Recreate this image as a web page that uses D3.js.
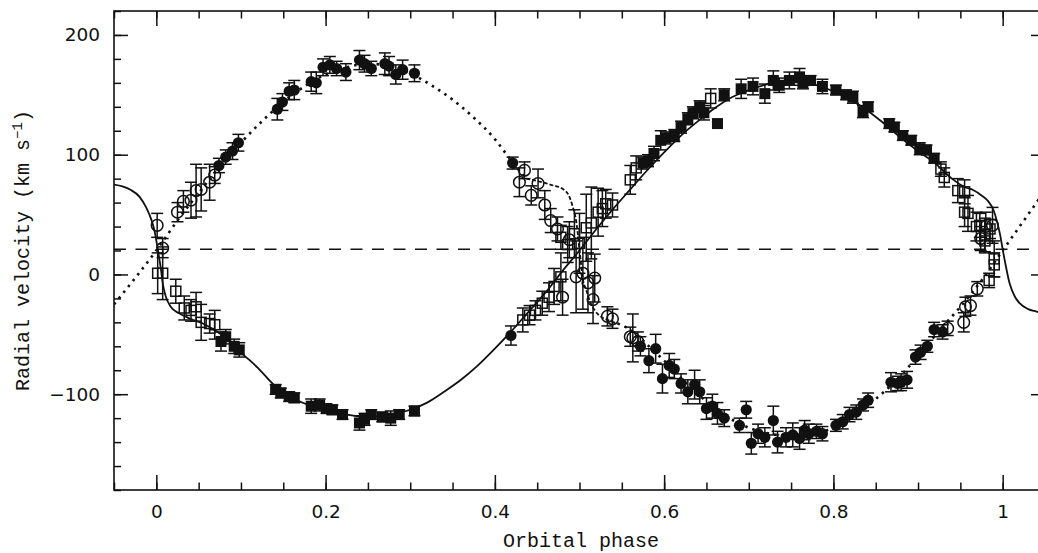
<!DOCTYPE html>
<html><head><meta charset="utf-8">
<script src="https://cdn.jsdelivr.net/npm/d3@7"></script>
<style>body{margin:0;background:#fff;overflow:hidden}</style>
</head><body><svg id="c" width="1038" height="553"></svg>
<script>
// ---------------- data ----------------
const xTickValues = [0, 0.2, 0.4, 0.6, 0.8, 1];
const xTickLabels = ["0", "0.2", "0.4", "0.6", "0.8", "1"];
const yTickValues = [-100, 0, 100, 200];
const yTickLabels = ["\u2212100", "0", "100", "200"];
const systemicVelocity = 21;
const xLabel = "Orbital phase";

// filled circles
const fcPhase = [0.074,0.082,0.090,0.097,0.143,0.149,0.157,0.163,0.183,0.189,0.197,0.205,0.213,0.224,0.240,0.246,0.254,0.270,0.275,0.283,0.291,0.305,0.421,0.419,
  0.572,0.582,0.590,0.598,0.606,0.612,0.620,0.628,0.636,0.642,0.650,0.657,0.663,0.671,0.689,0.697,0.703,0.711,0.719,0.729,0.734,0.744,0.752,0.760,0.766,0.771,0.780,0.787,0.803,0.811,0.819,0.827,0.835,0.841,0.868,0.876,0.880,0.887,0.897,0.903,0.911,0.919,0.929];
const fcVel = [91,98,103,110,138,144,153,154,161,160,173,175,172,169,179,176,172,176,174,167,171,168,93,-51,
  -60,-72,-62,-87,-76,-79,-91,-98,-92,-98,-112,-110,-116,-120,-126,-113,-141,-133,-136,-122,-140,-136,-134,-137,-130,-133,-131,-133,-126,-123,-117,-115,-109,-105,-90,-91,-90,-88,-69,-65,-60,-46,-48];
const fcErr = [6,6,7,7,9,7,7,8,8,9,7,7,6,7,8,7,6,9,8,8,8,7,5,8,
  8,10,12,12,10,8,8,10,12,10,9,10,9,7,6,7,9,8,8,12,9,8,10,9,8,8,6,6,5,6,6,6,5,6,8,6,7,7,6,6,5,6,6];

// open circles
const ocPhase = [0.001,0.0075,0.025,0.032,0.041,0.047,0.053,0.063,0.069,0.435,0.429,0.451,0.443,0.459,0.466,0.474,0.488,0.480,0.496,0.504,0.510,0.518,0.516,0.533,0.539,0.560,0.563,0.569,0.935,0.954,0.956,0.962,0.970,0.974,0.980,0.988];
const ocVel = [41,22,52,61,62,70,71,77,83,87,77,76,66,58,45,38,29,-19,-2,1,-7,-3,-21,-35,-37,-52,-53,-56,-45,-40,-27,-26,-12,30,40,41];
const ocErr = [10,8,8,9,15,22,18,15,7,7,12,12,8,12,10,10,15,15,30,30,25,20,20,8,8,8,20,8,6,8,8,8,6,10,12,15];

// open squares
const osPhase = [0.0016,0.0075,0.023,0.033,0.041,0.047,0.053,0.063,0.069,0.433,0.441,0.448,0.456,0.464,0.470,0.478,0.478,0.486,0.494,0.500,0.508,0.514,0.522,0.527,0.531,0.539,0.560,0.567,0.655,0.931,0.927,0.947,0.955,0.955,0.959,0.969,0.973,0.979,0.979,0.985,0.990,0.990,0.984];
const osVel = [1,1,-14,-28,-30,-27,-40,-41,-42,-38,-34,-30,-24,-19,-10,-2,31,25,34,26,39,43,52,55,59,58,79,89,147,81,88,70,69,52,51,40,41,33,28,38,13,8,-5];
const osErr = [17,22,10,10,9,12,15,8,12,10,8,8,10,12,15,20,10,15,20,25,28,30,20,15,12,10,12,10,8,8,6,10,10,12,15,12,10,14,10,8,15,10,6];

// filled squares
const fsPhase = [0.0764,0.082,0.092,0.098,0.141,0.147,0.157,0.163,0.183,0.193,0.201,0.208,0.220,0.240,0.246,0.254,0.267,0.277,0.287,0.305,
  0.575,0.581,0.588,0.596,0.602,0.612,0.620,0.628,0.634,0.642,0.647,0.663,0.671,0.691,0.705,0.719,0.729,0.736,0.748,0.760,0.764,0.773,0.787,0.803,0.815,0.823,0.835,0.841,0.866,0.872,0.882,0.892,0.902,0.910,0.919];
const fsVel = [-56,-52,-60,-63,-96,-99,-102,-103,-110,-109,-112,-113,-117,-124,-121,-117,-119,-120,-117,-114,
  93,95,101,112,114,116,123,130,135,140,135,126,150,155,157,151,162,158,162,165,160,162,157,154,150,148,136,140,126,123,116,112,105,104,97];
const fsErr = [8,6,6,6,4,4,4,4,6,5,4,4,4,6,5,4,4,6,4,4,
  5,5,6,8,5,5,5,5,5,5,6,0,5,8,7,8,8,6,7,7,5,4,6,4,4,5,5,4,4,4,4,4,5,4,4];

// model curves
const solidPhase = [-0.05,-0.04,-0.03,-0.02,-0.012,-0.006,-0.002,0.0015,0.0055,0.0075,0.011,0.017,0.027,0.04,0.055,0.07,0.086,0.1,0.12,0.14,0.16,0.18,0.2,0.225,0.25,0.275,0.3,0.32,0.34,0.36,0.38,0.4,0.42,0.44,0.46,0.48,0.5,0.52,0.54,0.56,0.58,0.6,0.62,0.64,0.66,0.68,0.7,0.72,0.74,0.76,0.78,0.8,0.82,0.84,0.86,0.88,0.9,0.92,0.94,0.955,0.965,0.975,0.983,0.989,0.993,0.997,1.0,1.004,1.008,1.014,1.02,1.03,1.04,1.05];
const solidVel = [75,73.5,70.5,65,56,46,36,22,4,-7,-18,-27,-32.5,-37,-41,-47,-55,-65,-78,-93,-103,-109,-113,-117,-119,-117,-113,-107,-98,-88,-76,-62,-47,-31,-15,3,20,38,55,71,87,102,116,128,139,148,154,158.5,160.5,160.5,158,153,146,137,126,114,103,93,80,73,70.5,66,61,54,45,33,21,6,-7,-18,-24,-29,-31,-33];

const dottedAPhase = [-0.05,-0.025,0,0.025,0.05,0.075,0.1,0.125,0.15,0.175,0.2,0.225,0.25,0.275,0.3,0.325,0.35,0.375,0.4,0.413,0.425,0.437];
const dottedAVel = [-25,-3,20,45,68,90,110,128,144,157,167,173,176,174,168,158,146,131,113,101,90,80];
const dottedBPhase = [0.545,0.555,0.57,0.585,0.6,0.625,0.65,0.675,0.7,0.725,0.75,0.775,0.8,0.825,0.85,0.875,0.9,0.925,0.95,0.975,1.0,1.025,1.05];
const dottedBVel = [-41,-44,-52,-62,-72,-90,-106,-119,-128,-133,-135,-133,-128,-118,-104,-88,-68,-47,-27,-5,20,45,70];
const rmPhase = [0.437,0.453,0.468,0.48,0.488,0.492,0.496,0.498,0.5,0.502,0.504,0.508,0.512,0.518,0.523,0.535,0.545];
const rmVel = [80,77.5,74.5,71.5,65,56.5,45,34,20,8,-4,-13,-22,-30,-34,-38.5,-41];

// ---------------- drawing ----------------
const W = 1038, H = 553;
const L = 114, R = 1045, T = 11, B = 490;
const svg = d3.select("#c");
const x = d3.scaleLinear().domain([-0.05, 1.05]).range([L, R]);
const y = d3.scaleLinear().domain([-180, 220]).range([B, T]);
const ink = "#111";

svg.append("defs").append("clipPath").attr("id", "clip")
  .append("rect").attr("x", L).attr("y", T).attr("width", R - L).attr("height", B - T);

const tickFont = "'DejaVu Sans', sans-serif";
const titleFont = "'Liberation Mono', 'DejaVu Sans Mono', monospace";

const xMinor = d3.range(-0.05, 1.0501, 0.05).map(v => +v.toFixed(2));
const yMinor = d3.range(-180, 220.1, 20);

function styleAxis(g) {
  g.select(".domain").remove();
  g.selectAll(".tick line").attr("stroke", ink).attr("stroke-width", 1.5);
  g.selectAll("text").attr("fill", ink).style("font-family", tickFont).style("font-size", "18.5px");
}
// bottom
svg.append("g").attr("transform", `translate(0,${B})`)
  .call(d3.axisBottom(x).tickValues(xMinor).tickSize(-7.5).tickFormat("")).call(styleAxis);
svg.append("g").attr("transform", `translate(0,${B})`)
  .call(d3.axisBottom(x).tickValues(xTickValues).tickSize(-15).tickPadding(15)
    .tickFormat((d, i) => xTickLabels[i])).call(styleAxis);
// top
svg.append("g").attr("transform", `translate(0,${T})`)
  .call(d3.axisTop(x).tickValues(xMinor).tickSize(-7.5).tickFormat("")).call(styleAxis);
svg.append("g").attr("transform", `translate(0,${T})`)
  .call(d3.axisTop(x).tickValues(xTickValues).tickSize(-15).tickFormat("")).call(styleAxis);
// left
svg.append("g").attr("transform", `translate(${L},0)`)
  .call(d3.axisLeft(y).tickValues(yMinor).tickSize(-7).tickFormat("")).call(styleAxis);
svg.append("g").attr("transform", `translate(${L},0)`)
  .call(d3.axisLeft(y).tickValues(yTickValues).tickSize(-14).tickPadding(14)
    .tickFormat((d, i) => yTickLabels[i])).call(styleAxis);
// right
svg.append("g").attr("transform", `translate(${R},0)`)
  .call(d3.axisRight(y).tickValues(yMinor).tickSize(-7).tickFormat("")).call(styleAxis);
svg.append("g").attr("transform", `translate(${R},0)`)
  .call(d3.axisRight(y).tickValues(yTickValues).tickSize(-14).tickFormat("")).call(styleAxis);

// frame
svg.append("rect").attr("x", L).attr("y", T).attr("width", R - L).attr("height", B - T)
  .attr("fill", "none").attr("stroke", ink).attr("stroke-width", 1.6);

const plot = svg.append("g").attr("clip-path", "url(#clip)");

// systemic velocity
plot.append("line").attr("x1", L).attr("x2", R).attr("y1", y(systemicVelocity)).attr("y2", y(systemicVelocity))
  .attr("stroke", ink).attr("stroke-width", 1.5).attr("stroke-dasharray", "12,9.5");

const line = d3.line().x(d => x(d[0])).y(d => y(d[1])).curve(d3.curveMonotoneX);
const zip = (a, b) => a.map((v, i) => [v, b[i]]);

plot.append("path").attr("d", line(zip(solidPhase, solidVel)))
  .attr("fill", "none").attr("stroke", ink).attr("stroke-width", 1.8);
[[dottedAPhase, dottedAVel], [dottedBPhase, dottedBVel]].forEach(([p, v]) => {
  plot.append("path").attr("d", line(zip(p, v)))
    .attr("fill", "none").attr("stroke", ink).attr("stroke-width", 2.6).attr("stroke-dasharray", "2.5,5");
});
plot.append("path").attr("d", line(zip(rmPhase, rmVel)))
  .attr("fill", "none").attr("stroke", ink).attr("stroke-width", 1.8).attr("stroke-dasharray", "4,2");

// error bars
function errorBars(ph, vel, err) {
  const g = plot.append("g").attr("stroke", ink).attr("stroke-width", 1.5);
  ph.forEach((p, i) => {
    if (!err[i]) return;
    const cx = x(p), y1 = y(vel[i] - err[i]), y2 = y(vel[i] + err[i]);
    g.append("line").attr("x1", cx).attr("x2", cx).attr("y1", y1).attr("y2", y2);
    g.append("line").attr("x1", cx - 6).attr("x2", cx + 6).attr("y1", y1).attr("y2", y1);
    g.append("line").attr("x1", cx - 6).attr("x2", cx + 6).attr("y1", y2).attr("y2", y2);
  });
}
errorBars(osPhase, osVel, osErr);
errorBars(ocPhase, ocVel, ocErr);
errorBars(fsPhase, fsVel, fsErr);
errorBars(fcPhase, fcVel, fcErr);

// markers
plot.append("g").selectAll("rect").data(zip(osPhase, osVel)).join("rect")
  .attr("x", d => x(d[0]) - 5).attr("y", d => y(d[1]) - 5).attr("width", 10).attr("height", 10)
  .attr("fill", "none").attr("stroke", ink).attr("stroke-width", 1.5);
plot.append("g").selectAll("circle").data(zip(ocPhase, ocVel)).join("circle")
  .attr("cx", d => x(d[0])).attr("cy", d => y(d[1])).attr("r", 5.8)
  .attr("fill", "none").attr("stroke", ink).attr("stroke-width", 1.5);
plot.append("g").selectAll("rect").data(zip(fsPhase, fsVel)).join("rect")
  .attr("x", d => x(d[0]) - 5.5).attr("y", d => y(d[1]) - 5.5).attr("width", 11).attr("height", 11)
  .attr("fill", ink);
plot.append("g").selectAll("circle").data(zip(fcPhase, fcVel)).join("circle")
  .attr("cx", d => x(d[0])).attr("cy", d => y(d[1])).attr("r", 5.6).attr("fill", ink);

// titles
svg.append("text").attr("x", (L + 1038) / 2 + 5).attr("y", 547).attr("text-anchor", "middle")
  .style("font-family", titleFont).style("font-size", "20px").attr("fill", ink).text(xLabel);
const yt = svg.append("text").attr("transform", `translate(29,${(T + B) / 2}) rotate(-90)`)
  .attr("text-anchor", "middle").style("font-family", titleFont).style("font-size", "20px").attr("fill", ink);
yt.append("tspan").text("Radial velocity (km s");
yt.append("tspan").attr("dy", -7).style("font-size", "14px").text("\u22121");
yt.append("tspan").attr("dy", 7).text(")");
</script>
</body></html>
